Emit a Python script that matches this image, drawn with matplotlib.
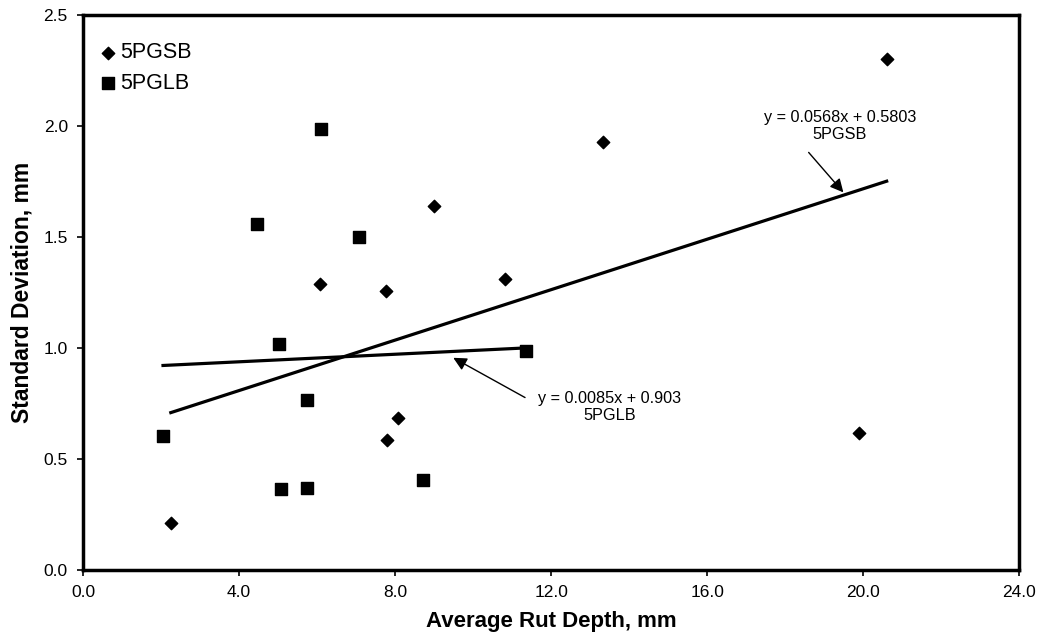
#!/usr/bin/python3
#
# rut depth vs standard deviation, two mixes with linear trend lines
#
import numpy as np
import matplotlib.pyplot as plt

plt.rcParams['font.family'] = ['Liberation Sans', 'DejaVu Sans']

#
# data
#
gsb_x = [2.25, 6.08, 7.77, 9.0, 10.82, 13.33, 7.79, 8.07, 19.9, 20.6]
gsb_y = [0.212, 1.286, 1.254, 1.638, 1.309, 1.927, 0.587, 0.686, 0.618, 2.301]

glb_x = [2.05, 5.03, 5.74, 5.08, 5.75, 4.46, 6.1, 7.08, 8.72, 11.36]
glb_y = [0.605, 1.015, 0.763, 0.365, 0.37, 1.557, 1.986, 1.498, 0.406, 0.984]

gsb_fit = (0.0568, 0.5803)
glb_fit = (0.0085, 0.903)

#
# plot
#
fig, ax = plt.subplots(figsize=(10.38, 6.41), dpi=100)
fig.subplots_adjust(left=0.08, right=0.982, top=0.977, bottom=0.111)

ax.scatter(gsb_x, gsb_y, marker='D', s=40, color='black', label='5PGSB', zorder=3)
ax.scatter(glb_x, glb_y, marker='s', s=75, color='black', label='5PGLB', zorder=3)

xs = np.array([min(gsb_x), max(gsb_x)])
ax.plot(xs, gsb_fit[0] * xs + gsb_fit[1], color='black', lw=2.3)
xs = np.array([min(glb_x), max(glb_x)])
ax.plot(xs, glb_fit[0] * xs + glb_fit[1], color='black', lw=2.3)

# trend line labels and arrows
ax.text(19.4, 2.0, 'y = 0.0568x + 0.5803\n5PGSB', ha='center', va='center',
        fontsize=11.7, linespacing=1.15)
ax.annotate('', xy=(19.49, 1.70), xytext=(18.6, 1.88),
            arrowprops=dict(arrowstyle='-|>', color='black', lw=1, mutation_scale=20,
                            shrinkA=0, shrinkB=0))
ax.text(13.5, 0.735, 'y = 0.0085x + 0.903\n5PGLB', ha='center', va='center',
        fontsize=11.7, linespacing=1.15)
ax.annotate('', xy=(9.49, 0.955), xytext=(11.33, 0.776),
            arrowprops=dict(arrowstyle='-|>', color='black', lw=1, mutation_scale=20,
                            shrinkA=0, shrinkB=0))

ax.set_xlim(0, 24)
ax.set_ylim(0, 2.5)
ax.set_xticks(np.arange(0, 24.1, 4))
ax.set_yticks(np.arange(0, 2.51, 0.5))
ax.xaxis.set_major_formatter('{x:.1f}')
ax.yaxis.set_major_formatter('{x:.1f}')
ax.tick_params(labelsize=12.5, width=1.2, length=4, direction='out')
ax.tick_params(axis='y', pad=7)
ax.tick_params(axis='x', pad=7)

for s in ax.spines.values():
    s.set_linewidth(2.5)

ax.set_xlabel('Average Rut Depth, mm', fontsize=16, fontweight='bold', labelpad=8)
ax.set_ylabel('Standard Deviation, mm', fontsize=16.5, fontweight='bold', labelpad=7)

ax.legend(loc='upper left', frameon=False, fontsize=15.5, handletextpad=0.05,
          borderaxespad=0.7, labelspacing=0.45, handlelength=1.0,
          bbox_to_anchor=(-0.01, 0.993))

plt.savefig("out.png")

# EOF #
